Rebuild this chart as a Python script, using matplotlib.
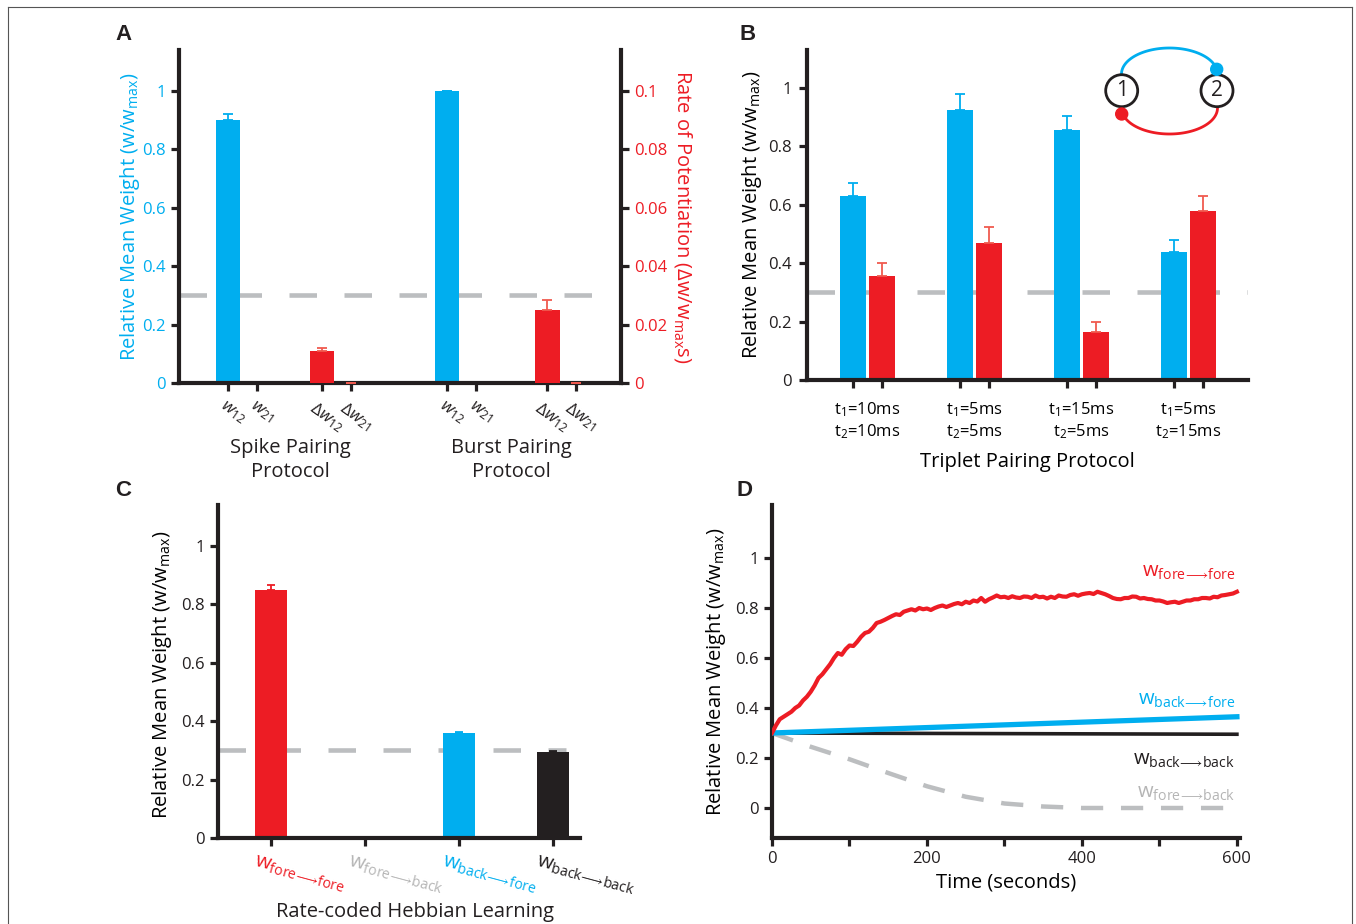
import numpy as np
import matplotlib
matplotlib.use('Agg')
import matplotlib.pyplot as plt
from matplotlib.transforms import ScaledTranslation, blended_transform_factory
from matplotlib.patches import Circle
from matplotlib.lines import Line2D
from matplotlib.ticker import FuncFormatter

CYAN = '#00AEEF'
RED = '#ED1C24'
GRAY = '#BCBEC0'
LGRAY = '#B5B5B5'
BLACK = '#231F20'

plt.rcParams['font.family'] = ['Open Sans', 'DejaVu Sans']
plt.rcParams['mathtext.fontset'] = 'custom'
plt.rcParams['mathtext.rm'] = 'Open Sans'
plt.rcParams['mathtext.it'] = 'Open Sans:italic'
plt.rcParams['mathtext.bf'] = 'Open Sans:bold'
plt.rcParams['text.color'] = BLACK

# ---------------- data ----------------
# Panel A
a_tick_labels = [r'$w_{12}$', r'$w_{21}$', r'$\Delta w_{12}$', r'$\Delta w_{21}$',
                 r'$w_{12}$', r'$w_{21}$', r'$\Delta w_{12}$', r'$\Delta w_{21}$']
a_positions = [0, 1, 3.24, 4.24, 7.55, 8.55, 11.0, 12.0]
a_groups = ['Spike Pairing\nProtocol', 'Burst Pairing\nProtocol']
a_weight = [0.90, 0.0, 1.0, 0.0]          # w12, w21 (spike), w12, w21 (burst)
a_weight_err = [0.02, 0.0, 0.0, 0.0]
a_rate = [0.011, 0.0, 0.025, 0.0]         # dw12, dw21 (spike), dw12, dw21 (burst)
a_rate_err = [0.001, 0.0, 0.0035, 0.0]

# Panel B
b_groups = ['t$_1$=10ms\nt$_2$=10ms', 't$_1$=5ms\nt$_2$=5ms',
            't$_1$=15ms\nt$_2$=5ms', 't$_1$=5ms\nt$_2$=15ms']
b_w12 = [0.63, 0.925, 0.855, 0.44]
b_w12_err = [0.045, 0.055, 0.05, 0.04]
b_w21 = [0.355, 0.47, 0.165, 0.58]
b_w21_err = [0.045, 0.055, 0.035, 0.05]

# Panel C
c_labels = [r'w$_{\mathrm{fore}\!\longrightarrow\!\mathrm{fore}}$', r'w$_{\mathrm{fore}\!\longrightarrow\!\mathrm{back}}$',
            r'w$_{\mathrm{back}\!\longrightarrow\!\mathrm{fore}}$', r'w$_{\mathrm{back}\!\longrightarrow\!\mathrm{back}}$']
c_values = [0.85, 0.0, 0.36, 0.295]
c_err = [0.015, 0.0, 0.003, 0.003]
c_colors = [RED, LGRAY, CYAN, BLACK]

# Panel D
d_t_ff = [0, 5, 10, 15, 20, 25, 30, 35, 40, 45, 50, 55, 60, 65, 70, 75, 80, 85, 90, 95,
          100, 105, 110, 115, 120, 125, 130, 135, 140, 145, 150, 155, 160, 165, 170, 175,
          180, 185, 190, 195, 200, 205, 210, 215, 220, 225, 230, 235, 240, 245, 250, 255,
          260, 265, 270, 275, 280, 285, 290, 295, 300, 305, 310, 315, 320, 325, 330, 335,
          340, 345, 350, 355, 360, 365, 370, 375, 380, 385, 390, 395, 400, 405, 410, 415,
          420, 425, 430, 435, 440, 445, 450, 455, 460, 465, 470, 475, 480, 485, 490, 495,
          500, 505, 510, 515, 520, 525, 530, 535, 540, 545, 550, 555, 560, 565, 570, 575,
          580, 585, 590, 595, 600]
d_ff = [0.30, 0.33, 0.355, 0.365, 0.375, 0.385, 0.40, 0.41, 0.43, 0.445, 0.465, 0.49, 0.52,
        0.535, 0.555, 0.575, 0.60, 0.62, 0.613, 0.635, 0.65, 0.648, 0.665, 0.685, 0.70, 0.705,
        0.72, 0.74, 0.745, 0.752, 0.76, 0.768, 0.775, 0.772, 0.785, 0.79, 0.795, 0.79, 0.80,
        0.795, 0.798, 0.792, 0.80, 0.806, 0.81, 0.804, 0.81, 0.816, 0.82, 0.815, 0.825, 0.82,
        0.83, 0.826, 0.84, 0.825, 0.835, 0.842, 0.85, 0.843, 0.845, 0.84, 0.847, 0.842, 0.84,
        0.846, 0.845, 0.84, 0.85, 0.843, 0.845, 0.838, 0.845, 0.84, 0.85, 0.846, 0.845, 0.852,
        0.855, 0.849, 0.855, 0.858, 0.86, 0.856, 0.865, 0.86, 0.855, 0.848, 0.84, 0.836, 0.835,
        0.84, 0.84, 0.846, 0.845, 0.838, 0.84, 0.836, 0.835, 0.83, 0.83, 0.826, 0.82, 0.823,
        0.825, 0.82, 0.825, 0.83, 0.83, 0.835, 0.835, 0.84, 0.84, 0.838, 0.845, 0.843, 0.85,
        0.852, 0.855, 0.858, 0.865]
d_t_bf = [0, 600]
d_bf = [0.30, 0.365]
d_t_bb = [0, 600]
d_bb = [0.30, 0.295]
d_t_fb = [0, 50, 100, 150, 200, 250, 300, 350, 400, 500, 600]
d_fb = [0.30, 0.245, 0.195, 0.14, 0.087, 0.045, 0.018, 0.006, 0.0, 0.0, 0.0]
baseline = 0.3

W, H = 1356, 924
fig = plt.figure(figsize=(W / 100, H / 100), dpi=100)

def px_axes(x0, x1, y_top, y_bot):
    return fig.add_axes([x0 / W, 1 - y_bot / H, (x1 - x0) / W, (y_bot - y_top) / H])

SPW = 3.0
TKL = 6
TKW = 2.3
TICKFS = 12
LABFS = 14.5

def style(ax, left=True, bottom=True, right=False):
    for s in ['top', 'right', 'left', 'bottom']:
        ax.spines[s].set_visible(False)
    for s, v in [('left', left), ('bottom', bottom), ('right', right)]:
        if v:
            ax.spines[s].set_visible(True)
            ax.spines[s].set_linewidth(SPW)
            ax.spines[s].set_color(BLACK)
    ax.tick_params(direction='out', length=TKL, width=TKW, color=BLACK,
                   labelsize=TICKFS, labelcolor=BLACK)

fmt = FuncFormatter(lambda v, p: '%g' % v)
ebar = lambda c: dict(ecolor=c, lw=1.3, capsize=3.6, capthick=1.3)

# ---------------- Panel A ----------------
axA = px_axes(179, 621, 50, 383)
style(axA)
axA.set_xlim(-1.69, 13.55)
axA.set_ylim(0, 1.14)
axA.axhline(baseline, color=GRAY, lw=3.3, dashes=(6, 6), zorder=0)
wpos = [a_positions[i] for i in (0, 1, 4, 5)]
rpos = [a_positions[i] for i in (2, 3, 6, 7)]
axA.bar(wpos, a_weight, width=0.86, color=CYAN, zorder=2,
        yerr=[np.zeros(4), a_weight_err], error_kw=ebar(CYAN))
axA.set_yticks([0, 0.2, 0.4, 0.6, 0.8, 1.0])
axA.yaxis.set_major_formatter(fmt)
axA.tick_params(axis='y', labelcolor=CYAN)
axA.set_xticks(a_positions)
axA.set_xticklabels(a_tick_labels, rotation=-35, ha='center', fontsize=12.5)
for lab in axA.get_xticklabels():
    lab.set_transform(lab.get_transform() + ScaledTranslation(0.05, -0.02, fig.dpi_scale_trans))
axA.set_ylabel('Relative Mean Weight (w/w$_{\\mathrm{max}}$)', color=CYAN, fontsize=LABFS, va='center')
axA.yaxis.set_label_coords(-0.11, 0.5)
tr = blended_transform_factory(axA.transData, axA.transAxes)
for xg, g in zip([2.14, 9.76], a_groups):
    axA.text(xg, -0.231, g, transform=tr, ha='center', va='center', fontsize=LABFS, linespacing=1.25)

axA2 = axA.twinx()
style(axA2, left=False, bottom=False, right=True)
axA2.set_ylim(0, 0.114)
axA2.bar(rpos, a_rate, width=0.86, color=RED, zorder=2,
         yerr=[np.zeros(4), a_rate_err], error_kw=ebar('#F05A4F'))
axA2.set_yticks([0, 0.02, 0.04, 0.06, 0.08, 0.1])
axA2.yaxis.set_major_formatter(fmt)
axA2.tick_params(axis='y', labelcolor=RED)
axA2.set_ylabel('Rate of Potentiation (\u0394w/w$_{\\mathrm{max}}$s)', color=RED, fontsize=LABFS,
                rotation=270, va='center')
axA2.yaxis.set_label_coords(1.14, 0.5)

# ---------------- Panel B ----------------
axB = px_axes(807, 1248, 50, 380)
style(axB)
axB.set_xlim(-0.565, 3.555)
axB.set_ylim(0, 1.13)
axB.axhline(baseline, color=GRAY, lw=3.3, dashes=(6, 6), zorder=0)
g = np.arange(4)
off = 0.135
bw = 0.243
axB.bar(g - off, b_w12, width=bw, color=CYAN, zorder=2,
        yerr=[np.zeros(4), b_w12_err], error_kw=ebar(CYAN))
axB.bar(g + off, b_w21, width=bw, color=RED, zorder=2,
        yerr=[np.zeros(4), b_w21_err], error_kw=ebar('#F05A4F'))
axB.set_yticks([0, 0.2, 0.4, 0.6, 0.8, 1.0])
axB.yaxis.set_major_formatter(fmt)
axB.tick_params(axis='y', pad=5)
axB.set_xticks(np.concatenate([g - off, g + off]))
axB.set_xticklabels([])
axB.set_xticks(g, minor=True)
axB.set_xticklabels(b_groups, minor=True, fontsize=TICKFS, linespacing=1.25)
axB.tick_params(axis='x', which='minor', length=0, pad=14.5)
axB.set_xlabel('Triplet Pairing Protocol', fontsize=LABFS, labelpad=8)
axB.set_ylabel('Relative Mean Weight (w/w$_{\\mathrm{max}}$)', fontsize=LABFS, va='center')
axB.yaxis.set_label_coords(-0.125, 0.5)

# network diagram inset
axN = px_axes(1095, 1245, 38, 145)
axN.set_xlim(1095, 1245)
axN.set_ylim(145, 38)
axN.axis('off')
tt = np.linspace(0, np.pi, 100)
cx, a = 1169.5, 48.0
axN.plot(cx + a * np.cos(tt), 74 - 26 * np.sin(tt), color=CYAN, lw=2.0)
axN.plot(cx + a * np.cos(tt), 108 + 26 * np.sin(tt), color=RED, lw=2.0)
for (x, y, lab) in [(1121.7, 90.7, '1'), (1217.0, 90.7, '2')]:
    axN.add_patch(Circle((x, y), 16, facecolor='white', edgecolor=BLACK, lw=2.0, zorder=3))
    axN.text(x, y, lab, ha='center', va='center', fontsize=15, zorder=4)
axN.add_patch(Circle((1216.7, 69.3), 6, color=CYAN, zorder=5))
axN.add_patch(Circle((1121.7, 114.0), 6, color=RED, zorder=5))

# ---------------- Panel C ----------------
axC = px_axes(218, 580, 505, 838)
style(axC)
axC.set_xlim(-0.564, 3.287)
axC.set_ylim(0, 1.14)
axC.axhline(baseline, xmax=0.96, color=GRAY, lw=3.3, dashes=(6, 6), zorder=0)
cx_ = np.arange(4)
for i in range(4):
    axC.bar(cx_[i], c_values[i], width=0.34, color=c_colors[i], zorder=2,
            yerr=[[0], [c_err[i]]], error_kw=dict(ecolor=c_colors[i], lw=1.3, capsize=3.0, capthick=1.3))
axC.set_yticks([0, 0.2, 0.4, 0.6, 0.8, 1.0])
axC.yaxis.set_major_formatter(fmt)
axC.set_xticks(cx_)
axC.set_xticklabels(c_labels, rotation=-15, ha='left', va='top', rotation_mode='anchor', fontsize=14.5)
for lab, col in zip(axC.get_xticklabels(), c_colors):
    lab.set_color(col)
    lab.set_transform(lab.get_transform() + ScaledTranslation(-0.14, 0, fig.dpi_scale_trans))
axC.set_ylabel('Relative Mean Weight (w/w$_{\\mathrm{max}}$)', fontsize=LABFS, va='center')
axC.yaxis.set_label_coords(-0.155, 0.49)
axC.text(0.544, -0.222, 'Rate-coded Hebbian Learning', transform=axC.transAxes,
         ha='center', va='center', fontsize=LABFS)

# ---------------- Panel D ----------------
axD = px_axes(772, 1240, 505, 838)
style(axD)
axD.set_xlim(0, 604)
axD.set_ylim(-0.12, 1.212)
axD.plot(d_t_fb, d_fb, color=GRAY, lw=3.2, dashes=(5, 4), zorder=2)
axD.plot(d_t_bb, d_bb, color=BLACK, lw=2.6, zorder=3)
axD.plot(d_t_bf, d_bf, color=CYAN, lw=3.8, zorder=4)
axD.plot(d_t_ff, d_ff, color=RED, lw=3.0, zorder=5)
axD.set_yticks([0, 0.2, 0.4, 0.6, 0.8, 1.0])
axD.yaxis.set_major_formatter(fmt)
axD.set_xticks([0, 100, 200, 300, 400, 500, 600])
axD.set_xticklabels(['0', '', '200', '', '400', '', '600'])
axD.set_xlabel('Time (seconds)', fontsize=LABFS, labelpad=4)
axD.set_ylabel('Relative Mean Weight (w/w$_{\\mathrm{max}}$)', fontsize=LABFS, va='center')
axD.yaxis.set_label_coords(-0.120, 0.5)
for txt, yv, col in [(c_labels[0], 0.944, RED), (c_labels[2], 0.432, CYAN),
                     (c_labels[3], 0.19, BLACK), (c_labels[1], 0.06, LGRAY)]:
    axD.text(598, yv, txt, color=col, ha='right', va='center', fontsize=14.5)

# ---------------- panel letters & frame ----------------
for lab, x, y in [('A', 123, 35), ('B', 748, 35), ('C', 123, 490), ('D', 745, 490)]:
    fig.text(x / W, 1 - y / H, lab, ha='center', va='center', fontsize=16,
             fontweight='bold', family='Liberation Sans')

frame = dict(color='#555555', lw=0.8)
fig.add_artist(Line2D([8 / W, 8 / W], [0, 1 - 7 / H], transform=fig.transFigure, **frame))
fig.add_artist(Line2D([8 / W, 1352 / W], [1 - 7 / H, 1 - 7 / H], transform=fig.transFigure, **frame))
fig.add_artist(Line2D([1352 / W, 1352 / W], [0, 1 - 7 / H], transform=fig.transFigure, **frame))

fig.savefig('out.png', dpi=100)
